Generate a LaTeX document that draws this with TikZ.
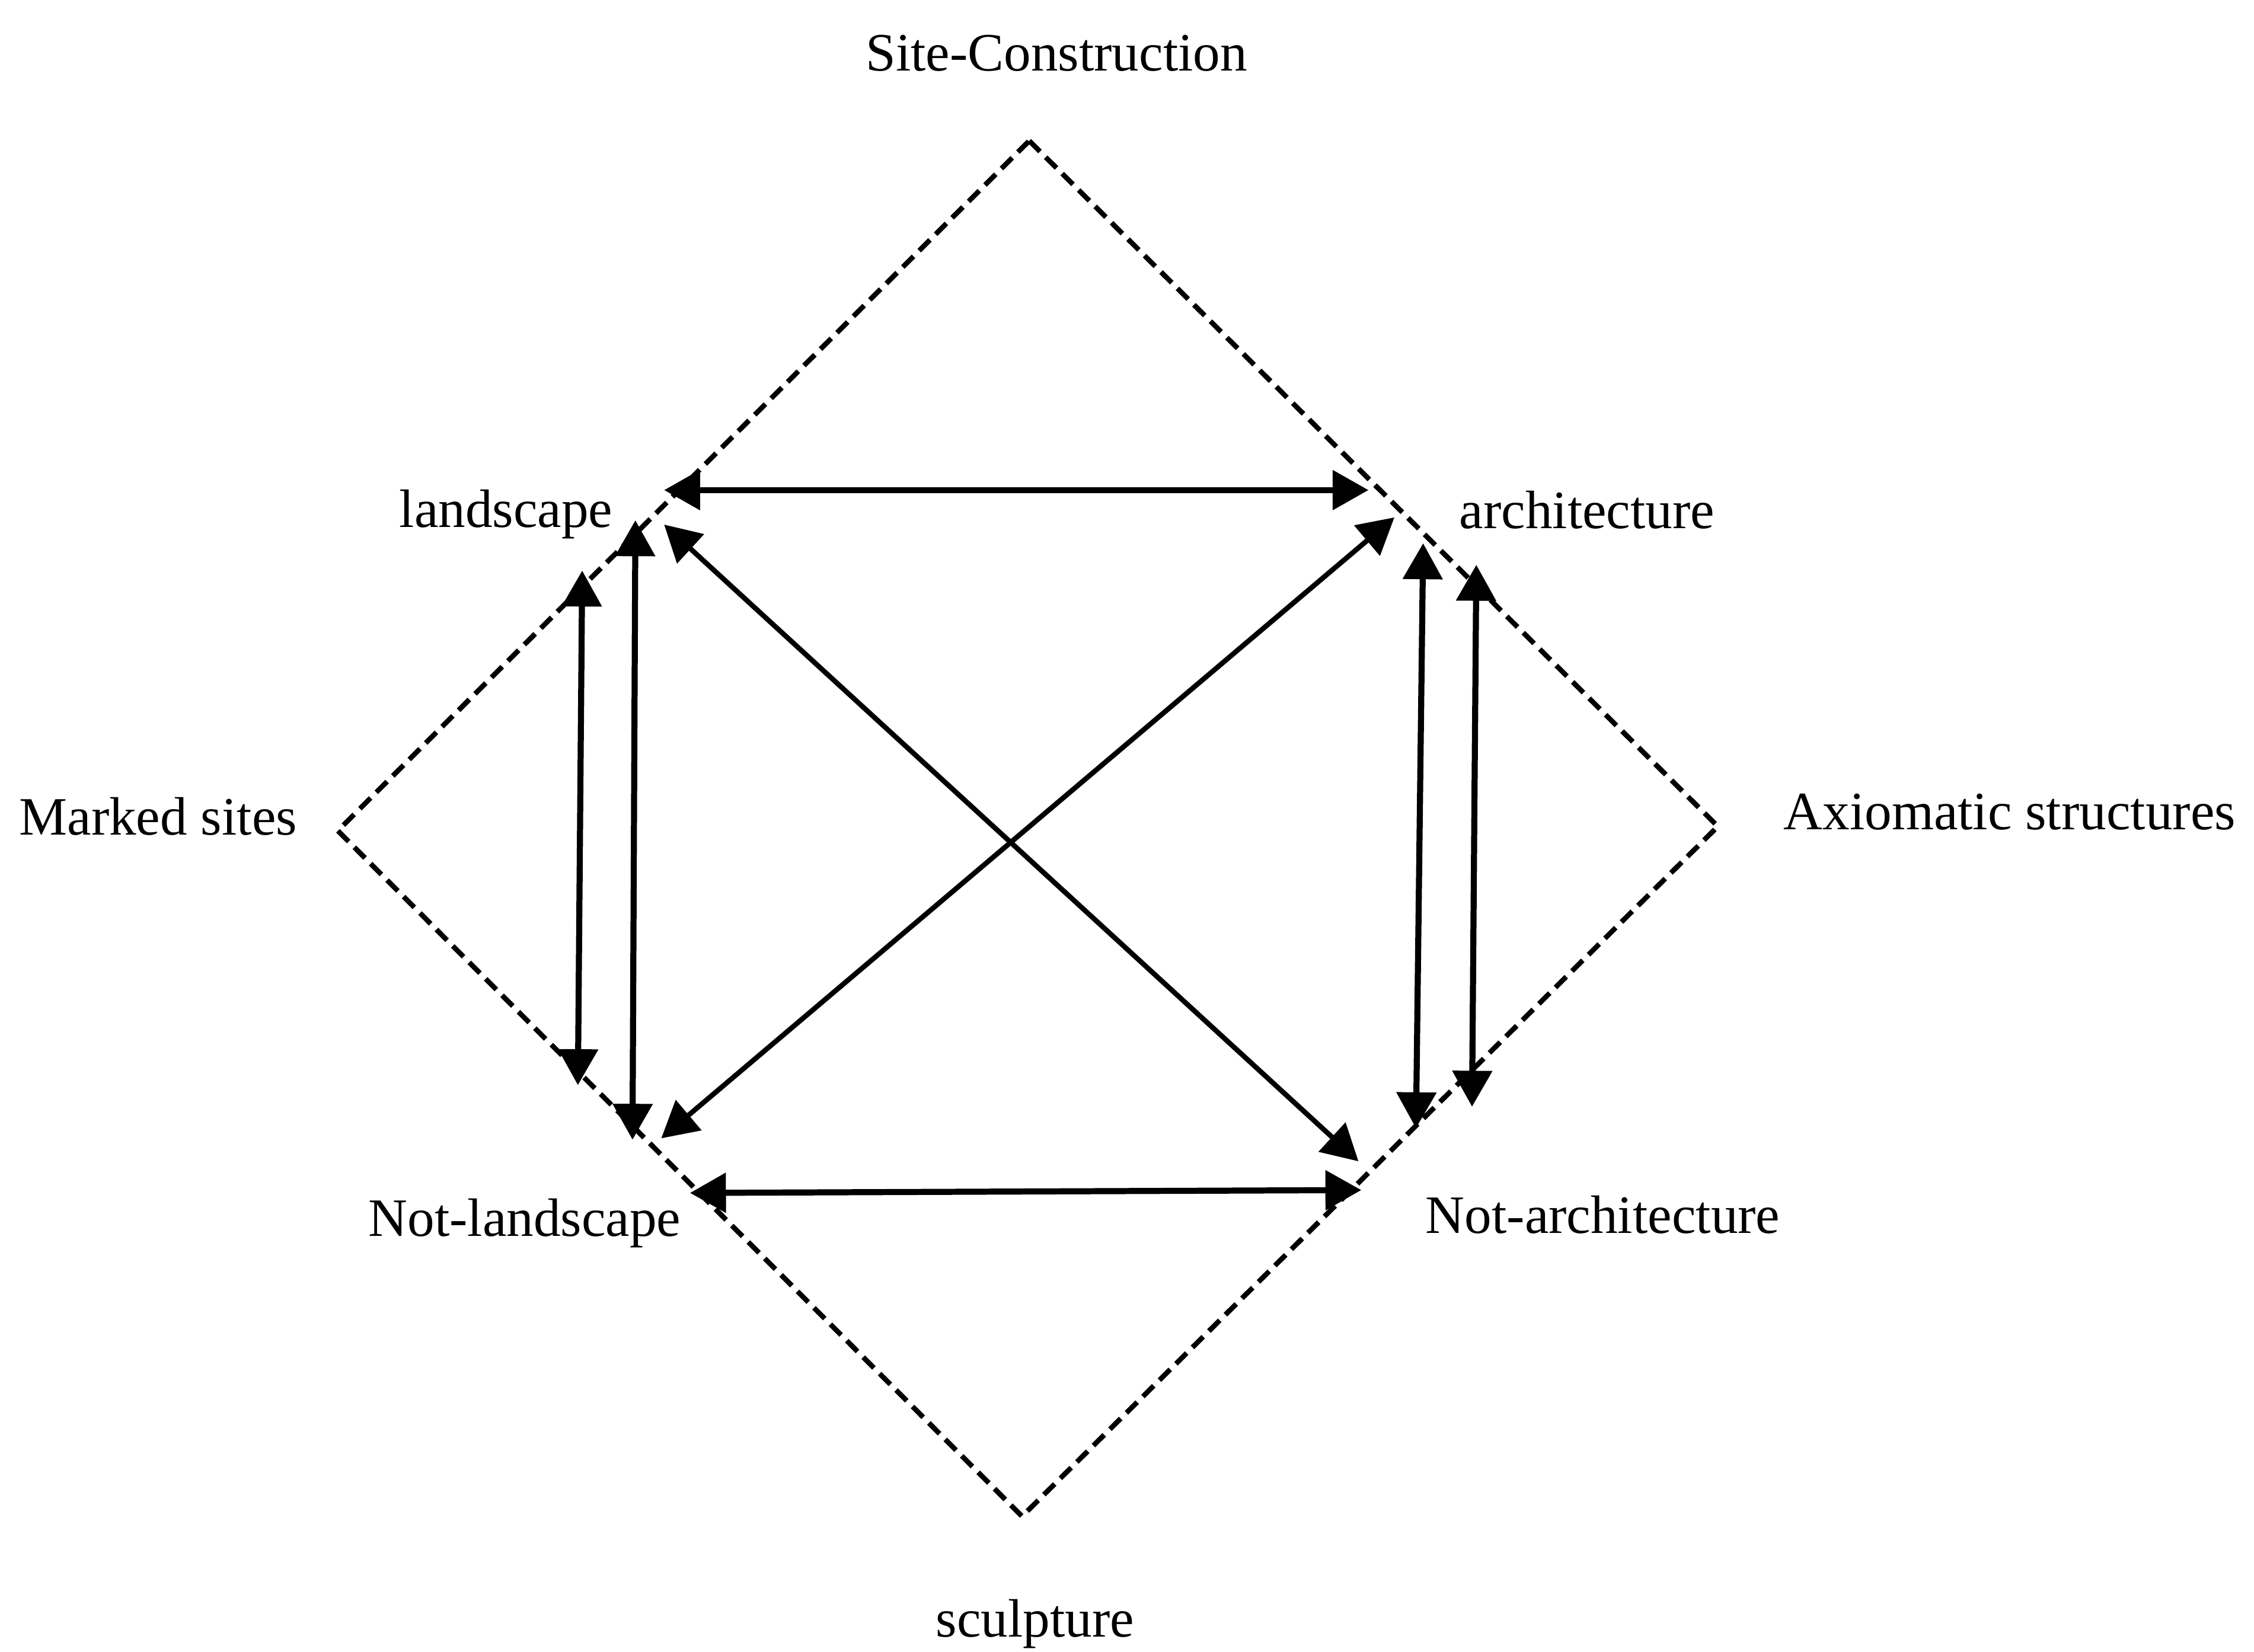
\documentclass[tikz,border=0pt]{standalone}
\usepackage{fontspec}
\setmainfont{Liberation Serif}
\usetikzlibrary{arrows.meta}
\usetikzlibrary{positioning}

\begin{document}
\begin{tikzpicture}
[
	term/.style = {inner sep = 0cm, font = \fontsize{10.7}{13}\selectfont},
	frame/.style = {draw = black, line width = 1pt, dash pattern = on 3pt off 1.6pt, line join = miter},
	link/.style = {draw = black, line width = 1.2pt, {Triangle[length = 2.5mm, width = 2.7mm]}-{Triangle[length = 2.5mm, width = 2.7mm]}},
]
	\useasboundingbox (0,0) rectangle (15.68,11.49);

	% corners of the dashed square
	\coordinate (top) at (7.16,10.51);
	\coordinate (lft) at (2.35,5.71);
	\coordinate (bot) at (7.11,0.94);
	\coordinate (rgt) at (11.95,5.74);
	\draw [frame] (top) -- (rgt) -- (bot) -- (lft) -- cycle;

	% terms
	\node (SC) [term] at (7.35,11.12) {Site-Construction};
	\node (LS) [term] at (3.52,7.91) {landscape};
	\node (AR) [term] at (11.04,7.94) {architecture};
	\node (MS) [term] at (1.10,5.81) {Marked sites};
	\node (AX) [term] at (13.98,5.84) {Axiomatic structures};
	\node (NL) [term] at (3.65,2.98) {Not-landscape};
	\node (NA) [term] at (11.15,3.04) {Not-architecture};
	\node (SC2) [term] at (7.20,0.19) {sculpture};

	% ends of the arrows
	\coordinate (LSh) at (4.62,8.08);
	\coordinate (ARh) at (9.52,8.08);
	\coordinate (NLh) at (4.80,3.19);
	\coordinate (NAh) at (9.47,3.21);
	%
	\coordinate (LSo) at (4.05,7.52);
	\coordinate (NLo) at (4.02,3.94);
	\coordinate (LSi) at (4.42,7.87);
	\coordinate (NLi) at (4.40,3.56);
	%
	\coordinate (ARi) at (9.90,7.71);
	\coordinate (NAi) at (9.85,3.64);
	\coordinate (ARo) at (10.27,7.56);
	\coordinate (NAo) at (10.24,3.79);
	%
	\coordinate (LSd) at (4.62,7.84);
	\coordinate (NAd) at (9.45,3.41);
	\coordinate (ARd) at (9.70,7.89);
	\coordinate (NLd) at (4.60,3.57);

	% arrows
	\draw [link] (LSh) -- (ARh);
	\draw [link] (NLh) -- (NAh);
	\draw [link] (LSo) -- (NLo);
	\draw [link] (LSi) -- (NLi);
	\draw [link] (ARi) -- (NAi);
	\draw [link] (ARo) -- (NAo);
	\draw [link, line width = 1pt] (LSd) -- (NAd);
	\draw [link, line width = 1pt] (ARd) -- (NLd);

\end{tikzpicture}
\end{document}
